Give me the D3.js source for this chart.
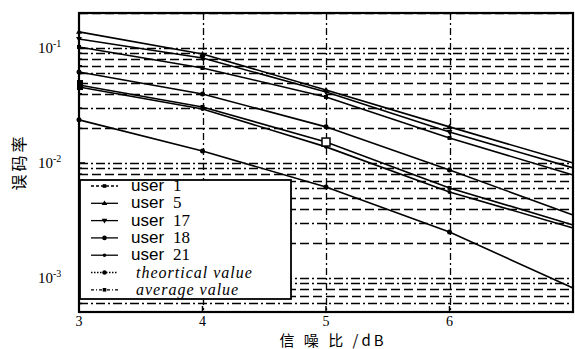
<!DOCTYPE html>
<html>
<head>
<meta charset="utf-8">
<script src="https://cdn.jsdelivr.net/npm/d3@7"></script>
<style>
  body { margin: 0; background: #fff; }
  svg { display: block; }
</style>
</head>
<body>
<svg id="chart" width="575" height="349"></svg>
<script>
// SNR values (dB)
const snr = [3, 4, 5, 6, 7];
const xTickLabels = ['3', '4', '5', '6'];

// BER per series
const user1 = [0.0476, 0.0307, 0.0152, 0.00607, 0.00289];
const user5 = [0.138, 0.0887, 0.0431, 0.0206, 0.0100];
const user17 = [0.1197, 0.0818, 0.0414, 0.0186, 0.00906];
const user18 = [0.0618, 0.0398, 0.0206, 0.00869, 0.00353];
const user21 = [0.0458, 0.0295, 0.0138, 0.0056, 0.00272];
const theortical = [0.0237, 0.0127, 0.00618, 0.00251, 0.000818];
const average = [0.102, 0.067, 0.0375, 0.0165, 0.00787];

const legendLabels = ['1', '5', '17', '18', '21', 'theortical value', 'average value'];

const series = [
  { name: 'user 1', values: user1, marker: 'square', dash: '3,2' },
  { name: 'user 5', values: user5, marker: 'triangle', dash: null },
  { name: 'user 17', values: user17, marker: 'triangleDown', dash: null },
  { name: 'user 18', values: user18, marker: 'circle', dash: null },
  { name: 'user 21', values: user21, marker: 'dot', dash: null },
  { name: 'theortical value', values: theortical, marker: 'circle', dash: '1.5,1.5' },
  { name: 'average value', values: average, marker: 'square', dash: '3,2,1,2' }
];

const svg = d3.select('#chart');
const plotL = 79, plotR = 573, plotT = 13, plotB = 312;

const x = d3.scaleLinear().domain([3, 7]).range([plotL, plotR]);
const y = d3.scaleLog().domain([Math.pow(10, -3.296), Math.pow(10, -0.696)]).range([plotB, plotT]);

// Horizontal grid (log minor + major)
const yDom = y.domain();
const gridVals = [];
for (let k = -4; k <= -1; k++) {
  for (let m = 1; m <= 9; m++) {
    const v = m * Math.pow(10, k);
    if (v > yDom[0] * 1.001 && v < yDom[1] * 0.999) gridVals.push({ v, m });
  }
}

const grid = svg.append('g').attr('class', 'grid');
grid.selectAll('line.h')
  .data(gridVals)
  .enter()
  .append('line')
  .attr('class', 'h')
  .attr('x1', plotL)
  .attr('x2', plotR)
  .attr('y1', (d) => Math.round(y(d.v)) + 0.5)
  .attr('y2', (d) => Math.round(y(d.v)) + 0.5)
  .attr('stroke', '#000')
  .attr('stroke-width', 1.3)
  .attr('stroke-dasharray', (d) => (d.m === 1 || d.m % 3 === 0 ? '9,3,2,3' : '9,4'));

// Vertical grid at 4, 5, 6
grid.selectAll('line.v')
  .data([4, 5, 6])
  .enter()
  .append('line')
  .attr('class', 'v')
  .attr('x1', (d) => Math.round(x(d)) + 0.5)
  .attr('x2', (d) => Math.round(x(d)) + 0.5)
  .attr('y1', plotT)
  .attr('y2', plotB)
  .attr('stroke', '#000')
  .attr('stroke-width', 1.3)
  .attr('stroke-dasharray', '7,3,2,3');

// Series lines
const line = d3.line()
  .x((d, i) => x(snr[i]))
  .y((d) => y(d));

const lines = svg.append('g').attr('class', 'series');
lines.selectAll('path')
  .data(series)
  .enter()
  .append('path')
  .attr('d', (d) => line(d.values))
  .attr('fill', 'none')
  .attr('stroke', '#000')
  .attr('stroke-width', 1.6);

// Markers
function drawMarker(g, type, cx, cy, s) {
  if (type === 'square') {
    g.append('rect').attr('x', cx - s).attr('y', cy - s).attr('width', 2 * s).attr('height', 2 * s)
      .attr('fill', '#000');
  } else if (type === 'triangle') {
    g.append('path').attr('d', `M${cx},${cy - s - 1}L${cx + s + 1},${cy + s}L${cx - s - 1},${cy + s}Z`).attr('fill', '#000');
  } else if (type === 'triangleDown') {
    g.append('path').attr('d', `M${cx},${cy + s + 1}L${cx + s + 1},${cy - s}L${cx - s - 1},${cy - s}Z`).attr('fill', '#000');
  } else if (type === 'circle') {
    g.append('circle').attr('cx', cx).attr('cy', cy).attr('r', s + 0.5).attr('fill', '#000');
  } else {
    g.append('circle').attr('cx', cx).attr('cy', cy).attr('r', s).attr('fill', '#000');
  }
}

const markers = svg.append('g').attr('class', 'markers');
series.forEach((s) => {
  s.values.forEach((v, i) => {
    if (snr[i] < 7) drawMarker(markers, s.marker, x(snr[i]), y(v), 2);
  });
});
// open square for user 1 at SNR 5, heavy mark at SNR 3
markers.append('rect')
  .attr('x', x(5) - 4).attr('y', y(user1[2]) - 4)
  .attr('width', 8).attr('height', 8)
  .attr('fill', '#fff').attr('stroke', '#000').attr('stroke-width', 1.5);
markers.append('rect')
  .attr('x', x(3) - 2).attr('y', y(user1[0]) - 5)
  .attr('width', 6).attr('height', 10)
  .attr('fill', '#000');

// Plot frame
svg.append('rect')
  .attr('x', plotL).attr('y', plotT)
  .attr('width', plotR - plotL).attr('height', plotB - plotT)
  .attr('fill', 'none').attr('stroke', '#000').attr('stroke-width', 2.2);

// Axis ticks (inside)
const ticks = svg.append('g').attr('class', 'ticks');
ticks.selectAll('line.xt')
  .data([4, 5, 6])
  .enter()
  .append('line')
  .attr('x1', (d) => x(d)).attr('x2', (d) => x(d))
  .attr('y1', plotB).attr('y2', plotB - 6)
  .attr('stroke', '#000').attr('stroke-width', 1.5);
ticks.selectAll('line.yt')
  .data(gridVals)
  .enter()
  .append('line')
  .attr('x1', plotL).attr('x2', (d) => plotL + (d.m === 1 ? 6 : 3))
  .attr('y1', (d) => y(d.v)).attr('y2', (d) => y(d.v))
  .attr('stroke', '#000').attr('stroke-width', 1.5);

// X tick labels
svg.append('g')
  .selectAll('text')
  .data(xTickLabels)
  .enter()
  .append('text')
  .attr('x', (d) => x(+d))
  .attr('y', 326)
  .attr('text-anchor', 'middle')
  .attr('font-family', 'Liberation Serif, serif')
  .attr('font-size', 14)
  .text((d) => d);

// Y tick labels (10^k)
const yLabels = svg.append('g');
[-1, -2, -3].forEach((k) => {
  const t = yLabels.append('text')
    .attr('x', 38)
    .attr('y', y(Math.pow(10, k)) + 5)
    .attr('font-family', 'Liberation Serif, serif')
    .attr('font-size', 15);
  t.append('tspan').text('10');
  t.append('tspan').attr('font-size', 10).attr('dy', -6).text(String(k));
});

// Axis titles
svg.append('text')
  .attr('transform', 'translate(25,162) rotate(-90)')
  .attr('text-anchor', 'middle')
  .attr('font-family', 'Noto Sans CJK SC, sans-serif')
  .attr('font-size', 16)
  .attr('letter-spacing', 3)
  .text('误码率');

svg.append('text')
  .attr('x', 333)
  .attr('y', 346)
  .attr('text-anchor', 'middle')
  .attr('font-family', 'Noto Sans CJK SC, serif')
  .attr('font-size', 15)
  .attr('letter-spacing', 3)
  .text('信 噪 比 /dB');

// Legend
const lg = svg.append('g').attr('class', 'legend');
lg.append('rect')
  .attr('x', 80).attr('y', 180)
  .attr('width', 211).attr('height', 119)
  .attr('fill', '#fff').attr('stroke', '#000').attr('stroke-width', 1.8);

series.forEach((s, i) => {
  const ly = 186 + i * 17.3;
  lg.append('line')
    .attr('x1', 91).attr('x2', 118)
    .attr('y1', ly).attr('y2', ly)
    .attr('stroke', '#000').attr('stroke-width', 1.3)
    .attr('stroke-dasharray', s.dash);
  drawMarker(lg, s.marker, 104.5, ly, 1.8);
  const t = lg.append('text')
    .attr('y', ly + 5)
    .attr('font-size', 17);
  if (i < 5) {
    t.attr('x', 131);
    t.append('tspan').attr('font-family', 'Liberation Sans, sans-serif').text('user');
    t.append('tspan').attr('font-family', 'Liberation Serif, serif').attr('dx', 9).text(legendLabels[i]);
  } else {
    t.attr('x', 136)
      .attr('font-family', 'Liberation Serif, serif')
      .attr('font-style', 'italic')
      .attr('font-size', 16)
      .attr('letter-spacing', 1)
      .text(legendLabels[i]);
  }
});
</script>
</body>
</html>
